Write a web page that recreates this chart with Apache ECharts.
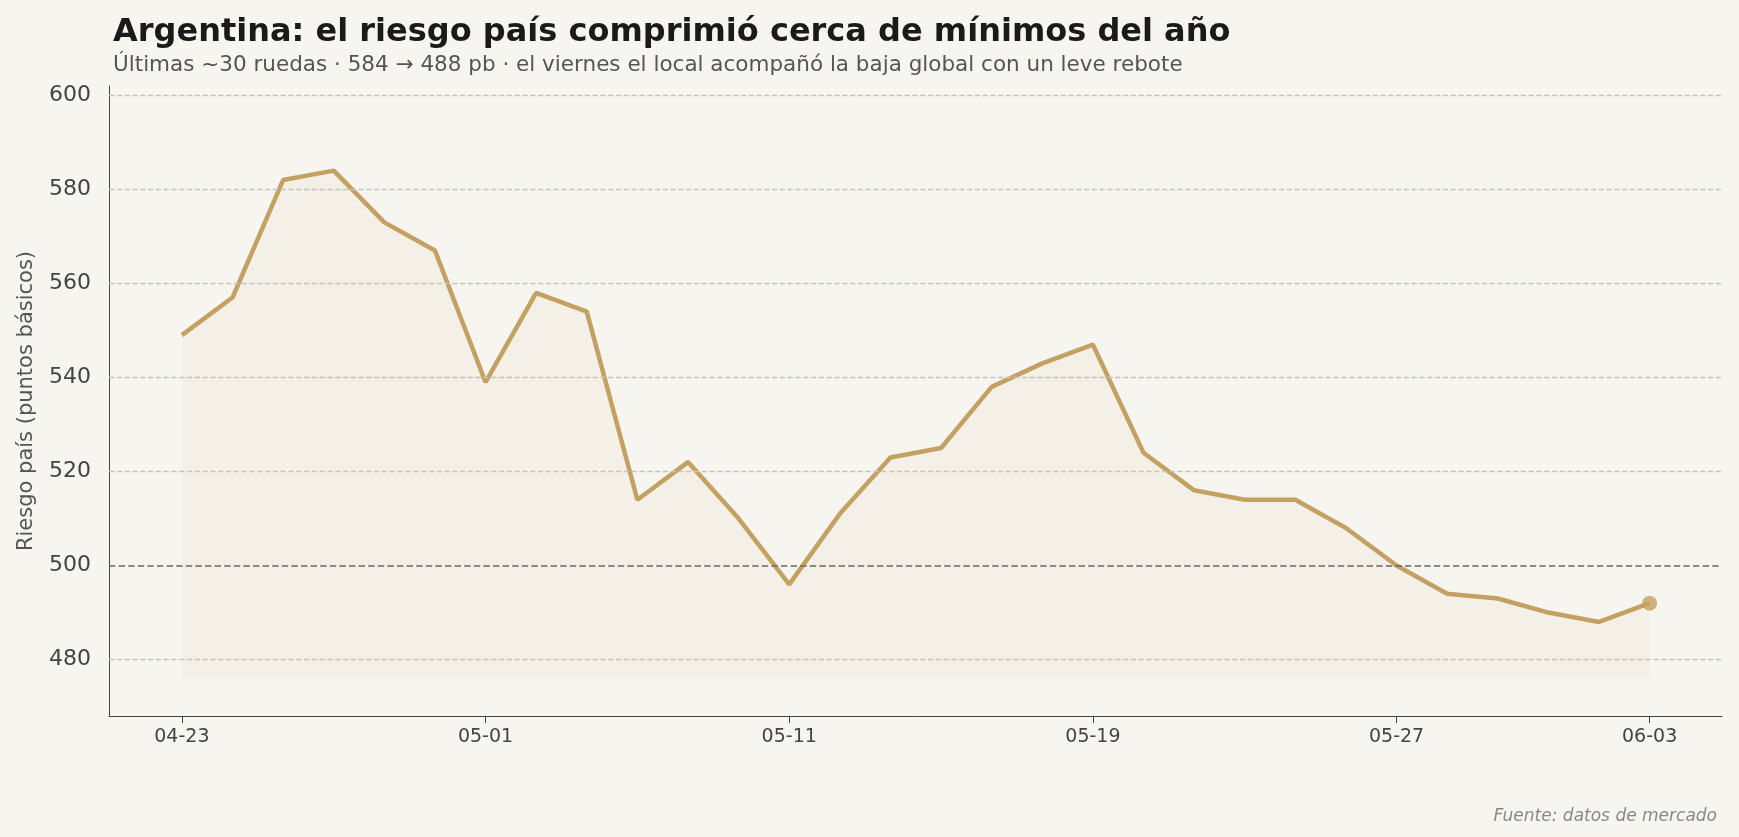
<!DOCTYPE html>
<html><head><meta charset="utf-8">
<script src="https://cdn.jsdelivr.net/npm/echarts@6/dist/echarts.min.js"></script>
<style>html,body{margin:0;background:#f7f5f0}#c{width:1739px;height:837px}</style>
</head><body><div id="c"></div>
<script>
const dates = ['04-23','04-24','04-25','04-28','04-29','04-30','05-01','05-02','05-05','05-06','05-07','05-08','05-11','05-12','05-13','05-14','05-15','05-16','05-19','05-20','05-21','05-22','05-23','05-26','05-27','05-28','05-29','05-30','06-02','06-03'];
const values = [549,557,582,584,573,567,539,558,554,514,522,510,496,511,523,525,538,543,547,524,516,514,514,508,500,494,493,490,488,492];
const xTickIdx = [0,6,12,18,24,29];
const yTicks = [480,500,520,540,560,580,600];
const F = 'DejaVu Sans';
const chart = echarts.init(document.getElementById('c'));
const n = values.length;
chart.setOption({
  backgroundColor:'#f7f5f0',
  animation:false,
  textStyle:{fontFamily:F},
  title:[
    {text:'Argentina: el riesgo país comprimió cerca de mínimos del año',left:108,top:12,textStyle:{fontFamily:F,fontSize:32,fontWeight:'bold',color:'#1a1a1a'}},
    {text:'Últimas ~30 ruedas · 584 → 488 pb · el viernes el local acompañó la baja global con un leve rebote',left:108,top:49,textStyle:{fontFamily:F,fontSize:21.5,fontWeight:'normal',color:'#555'}},
    {text:'Fuente: datos de mercado',right:17,top:803,textStyle:{fontFamily:F,fontSize:17,fontStyle:'italic',fontWeight:'normal',color:'#888'}}
  ],
  grid:{left:109,right:17,top:86,bottom:121},
  xAxis:{type:'value',min:-1.44,max:n-1+1.43,
    axisLine:{onZero:false,lineStyle:{color:'#444'}},
    axisTick:{show:true,customValues:xTickIdx,length:7,lineStyle:{color:'#444'}},
    axisLabel:{customValues:xTickIdx,formatter:v=>dates[Math.round(v)],fontSize:19,color:'#444',margin:12},
    splitLine:{show:false}},
  yAxis:{type:'value',min:468,max:602,
    name:'Riesgo país (puntos básicos)',nameLocation:'middle',nameGap:72,nameTextStyle:{fontSize:21,color:'#555'},
    axisLine:{show:true,onZero:false,lineStyle:{color:'#444'}},
    axisTick:{show:false},
    axisLabel:{customValues:yTicks,fontSize:22,color:'#444',margin:18},
    splitLine:{show:false}},
  series:[
    {type:'line',data:values.map((v,i)=>[i,v]),symbol:'none',
     lineStyle:{color:'#c4a062',width:4.5},
     areaStyle:{color:'rgba(196,160,98,0.08)',origin:476},
     markLine:{silent:true,symbol:'none',label:{show:false},
       data:yTicks.map(t=>({yAxis:t,lineStyle:t===500?{color:'#666',type:'dashed',width:1.6}:{color:'#c8c4bc',type:'dashed',width:1.3}}))},
     markPoint:{symbol:'none',data:[
       {coord:[0.85,504.8],label:{show:true,formatter:'500 pb',fontSize:18,color:'#555'}},
       {coord:[27.7,472.5],label:{show:true,formatter:'492 pb\n(3-jun)',fontSize:19,fontWeight:'bold',color:'#1a1a1a',lineHeight:22}}
     ]},
     z:3},
    {type:'scatter',data:[[n-1,values[n-1]]],symbolSize:15,itemStyle:{color:'#c4a062'},z:4}
  ]
});
</script></body></html>
